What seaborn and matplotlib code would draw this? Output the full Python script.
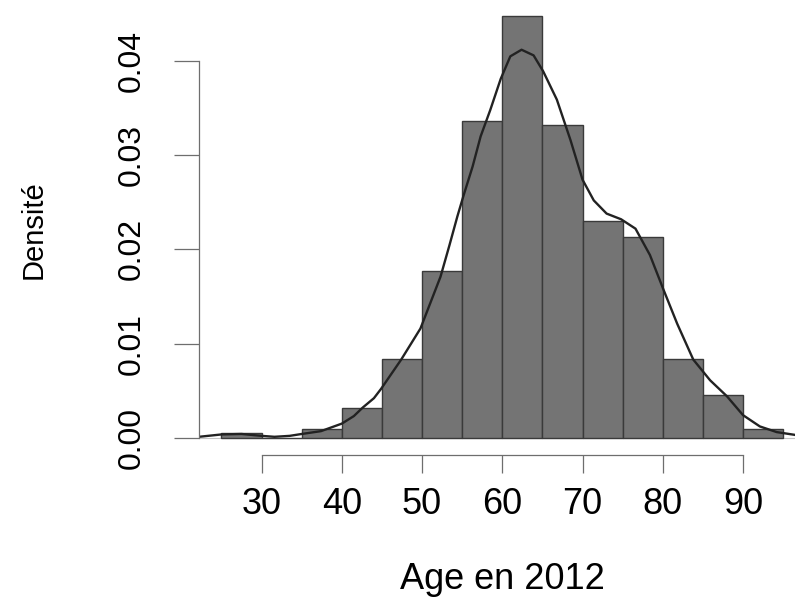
import matplotlib
matplotlib.use("Agg")
import matplotlib.pyplot as plt
import seaborn as sns

# Histogram of ages (density scale, 5-year bins)
bin_edges = [25, 30, 35, 40, 45, 50, 55, 60, 65, 70, 75, 80, 85, 90, 95]
bin_density = [0.00047, 0.0, 0.00093, 0.0032, 0.0084, 0.0177, 0.0336,
               0.0448, 0.0332, 0.0230, 0.0213, 0.0084, 0.0045, 0.00093]
bin_mids = [(a + b) / 2 for a, b in zip(bin_edges[:-1], bin_edges[1:])]

# Kernel density estimate of the same ages
kde_age = [22.2, 25.0, 27.5, 30.0, 31.6, 33.5, 35.0, 37.4, 40.0, 41.5, 42.6,
           44.0, 44.9, 47.4, 49.8, 52.3, 53.4, 54.4, 55.2, 56.3, 57.3, 58.5,
           59.8, 61.0, 62.4, 63.9, 65.1, 66.8, 68.5, 70.0, 71.4, 73.0, 74.8,
           76.6, 78.4, 80.1, 81.8, 83.8, 85.9, 88.0, 90.0, 92.1, 94.2, 96.5,
           97.8]
kde_density = [0.0001, 0.00035, 0.0004, 0.0002, 0.0001, 0.0002, 0.0004,
               0.0007, 0.0015, 0.0023, 0.0032, 0.0042, 0.0052, 0.0083, 0.0116,
               0.0171, 0.0204, 0.0235, 0.0258, 0.0288, 0.0320, 0.0348, 0.0381,
               0.0405, 0.0412, 0.0406, 0.0389, 0.0359, 0.0316, 0.0274, 0.0252,
               0.0238, 0.0232, 0.0222, 0.0194, 0.0157, 0.0121, 0.0083, 0.0061,
               0.0044, 0.0024, 0.0012, 0.0006, 0.0003, 0.0002]

x_ticks = [30, 40, 50, 60, 70, 80, 90]
y_ticks = [0.00, 0.01, 0.02, 0.03, 0.04]
y_tick_labels = ["0.00", "0.01", "0.02", "0.03", "0.04"]

sns.set_theme(style="white")
plt.rcParams["font.family"] = ["Liberation Sans", "DejaVu Sans"]

W, H = 795, 598
fig = plt.figure(figsize=(W / 100, H / 100), dpi=100)
ax = fig.add_axes([199 / W, (H - 454.6) / H, (805.6 - 199) / W, (454.6 + 1.6) / H])

ax.axhline(0, color="#c4c4c4", lw=0.8, zorder=0)
sns.histplot(x=bin_mids, weights=bin_density, bins=bin_edges, stat="count",
             color="#747474", edgecolor="#3a3a3a", linewidth=1.0, alpha=1,
             ax=ax)
sns.lineplot(x=kde_age, y=kde_density, color="#222222", linewidth=1.7, ax=ax)
for line in ax.get_lines():
    line.set_solid_joinstyle("round")

ax.set_xlim(22.2, 97.8)
ax.set_ylim(-0.00179, 0.04665)

sns.despine(ax=ax)
axis_col = "#6e6e6e"
for side in ("left", "bottom"):
    ax.spines[side].set_color(axis_col)
    ax.spines[side].set_linewidth(0.9)
ax.spines["left"].set_bounds(0, 0.04)
ax.spines["bottom"].set_bounds(30, 90)

ax.set_xticks(x_ticks)
ax.set_yticks(y_ticks)
ax.set_yticklabels(y_tick_labels)
ax.tick_params(axis="x", bottom=True, length=12.6, width=0.9, color=axis_col,
               direction="out", pad=11, labelsize=26, labelcolor="black")
ax.tick_params(axis="y", left=True, length=18, width=0.9, color=axis_col,
               direction="out", pad=19.4, labelsize=23, labelcolor="black",
               labelrotation=90)
for lab in ax.get_yticklabels():
    lab.set_verticalalignment("center")

ax.set_xlabel("Age en 2012", fontsize=26, color="black")
ax.xaxis.set_label_coords(502.3 / W, (H - 562) / H, transform=fig.transFigure)
ax.set_ylabel("Densité", fontsize=21, color="black")
ax.yaxis.set_label_coords(48 / W, (H - 230) / H, transform=fig.transFigure)

fig.savefig("out.png", dpi=100)
